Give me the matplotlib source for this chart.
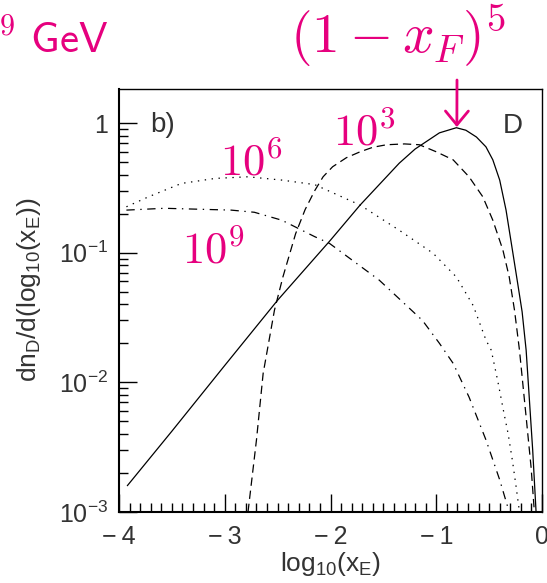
import numpy as np
import matplotlib
matplotlib.use("Agg")
import matplotlib.pyplot as plt
from matplotlib.ticker import FixedLocator, MultipleLocator, NullFormatter

# curvas (x = log10(xE), y = dn/dlog10(xE))
solido_x = [-3.92, -3.5, -3.0, -2.5, -2.0, -1.72, -1.35, -1.2, -0.97, -0.81, -0.72,
            -0.62, -0.53, -0.465, -0.40, -0.34, -0.28, -0.23, -0.188, -0.15, -0.119,
            -0.088, -0.056]
solido_y = [1.6e-3, 4.2e-3, 0.0135, 0.043, 0.125, 0.233, 0.49, 0.63, 0.84, 0.92, 0.88,
            0.78, 0.655, 0.52, 0.363, 0.213, 0.105, 0.058, 0.035, 0.0177, 0.0073,
            0.0030, 1.0e-3]

tracejado_x = [-2.78, -2.70, -2.637, -2.53, -2.45, -2.33, -2.24, -2.15, -2.07, -1.98,
               -1.85, -1.72, -1.60, -1.47, -1.30, -1.16, -1.0, -0.84, -0.69, -0.56,
               -0.465, -0.37, -0.31, -0.26, -0.213, -0.15, -0.103, -0.072]
tracejado_y = [1.0e-3, 3.6e-3, 0.0117, 0.036, 0.065, 0.14, 0.215, 0.30, 0.385, 0.46,
               0.54, 0.60, 0.65, 0.68, 0.69, 0.68, 0.60, 0.52, 0.385, 0.27,
               0.178, 0.105, 0.065, 0.036, 0.0177, 5.4e-3, 2.2e-3, 1.0e-3]

pontilhado_x = [-3.93, -3.72, -3.41, -3.09, -2.78, -2.46, -2.15, -1.72, -1.35, -1.03,
                -0.81, -0.65, -0.53, -0.48, -0.42, -0.36, -0.32, -0.28, -0.245, -0.213]
pontilhado_y = [0.226, 0.27, 0.342, 0.374, 0.385, 0.363, 0.335, 0.233, 0.149, 0.099,
                0.065, 0.039, 0.0212, 0.0177, 0.0104, 5.8e-3, 4.0e-3, 2.5e-3, 1.57e-3,
                1.0e-3]

tracoponto_x = [-3.93, -3.57, -2.94, -2.72, -2.46, -2.15, -2.01, -1.54, -1.13, -0.97,
                -0.84, -0.69, -0.53, -0.40, -0.31]
tracoponto_y = [0.213, 0.22, 0.213, 0.205, 0.178, 0.133, 0.118, 0.0615, 0.030, 0.020,
                0.014, 7.7e-3, 3.6e-3, 1.77e-3, 1.0e-3]

xticks = [-4, -3, -2, -1, 0]
xtick_labels = ["\u2212\u20094", "\u2212\u20093", "\u2212\u20092", "\u2212\u20091", "0"]
yticks = [1e-3, 1e-2, 1e-1, 1]
ytick_labels = [r"$\mathrm{10^{-3}}$", r"$\mathrm{10^{-2}}$", r"$\mathrm{10^{-1}}$", "1"]

rotulos_energia = [r"$10^3$", r"$10^6$", r"$10^9$"]

magenta = "#e6007e"
cinza = "#333333"

plt.rcParams["font.family"] = ["Liberation Sans", "DejaVu Sans"]
plt.rcParams["mathtext.fontset"] = "custom"
plt.rcParams["mathtext.rm"] = "Liberation Sans"
plt.rcParams["mathtext.it"] = "Liberation Sans:italic"
plt.rcParams["mathtext.sf"] = "Liberation Sans"
plt.rcParams["lines.scale_dashes"] = False

W, H = 547, 583
fig = plt.figure(figsize=(W / 100, H / 100), dpi=100)
ax = fig.add_axes([119 / W, 71 / H, 423 / W, 423 / H])

lw = 0.9
ax.plot(solido_x, solido_y, color="black", lw=lw)
ax.plot(tracejado_x, tracejado_y, color="black", lw=lw, linestyle=(0, (6, 3.5)))
ax.plot(pontilhado_x, pontilhado_y, color="black", lw=lw, linestyle=(0, (1, 4)))
ax.plot(tracoponto_x, tracoponto_y, color="black", lw=lw, linestyle=(0, (6, 4, 1, 4)))

ax.set_yscale("log")
ax.set_xlim(-4, 0)
ax.set_ylim(1e-3, 1.83)

ax.set_xticks(xticks, labels=xtick_labels)
ax.xaxis.set_minor_locator(MultipleLocator(0.1))
ax.set_yticks(yticks, labels=ytick_labels)
minors = [m * 10.0 ** e for e in range(-3, 1) for m in range(2, 10)]
ax.yaxis.set_minor_locator(FixedLocator(minors))
ax.yaxis.set_minor_formatter(NullFormatter())

ax.tick_params(which="both", direction="in", top=False, right=False, color="black",
               width=1.0, labelcolor=cinza, labelsize=18)
ax.tick_params(which="major", length=13)
ax.tick_params(which="minor", length=6.5)
ax.tick_params(axis="x", pad=9)
ax.tick_params(axis="y", pad=8)
for lado in ["left", "bottom"]:
    ax.spines[lado].set_linewidth(1.5)
for lado in ["top", "right"]:
    ax.spines[lado].set_linewidth(1.0)

ax.set_xlabel(r"log$_\mathrm{10}$(x$_\mathrm{E}$)", fontsize=19, color=cinza, labelpad=1)
ax.set_ylabel(r"dn$_\mathrm{D}$/d(log$_\mathrm{10}$(x$_\mathrm{E}$))", fontsize=19, color=cinza)
ax.yaxis.set_label_coords(-0.18, 0.525)

def px(x, y):
    return x / W, 1 - y / H

fig.text(*px(150, 132), "b)", fontsize=20, color=cinza)
fig.text(*px(503, 133), "D", fontsize=20, color=cinza)

# rotulos de energia
fig.text(*px(333, 145), rotulos_energia[0], fontsize=32, color=magenta, math_fontfamily="cm")
fig.text(*px(220, 176), rotulos_energia[1], fontsize=32, color=magenta, math_fontfamily="cm")
fig.text(*px(182, 263), rotulos_energia[2], fontsize=32, color=magenta, math_fontfamily="cm")

fig.text(*px(290, 53), r"$(1-x_F)^5$", fontsize=40, color=magenta, math_fontfamily="cm")
fig.text(*px(108, 53), r"$10^9\ \mathsf{GeV}$", fontsize=31, color=magenta,
         math_fontfamily="cm", ha="right")

ax.annotate("", xy=(-0.805, 0.93), xycoords="data", xytext=(457, H - 80),
            textcoords="figure pixels", annotation_clip=False,
            arrowprops=dict(arrowstyle="->,head_length=0.4,head_width=0.33",
                            mutation_scale=25, color=magenta, lw=2.0,
                            shrinkA=0, shrinkB=0))

fig.savefig("out.png", dpi=100)
